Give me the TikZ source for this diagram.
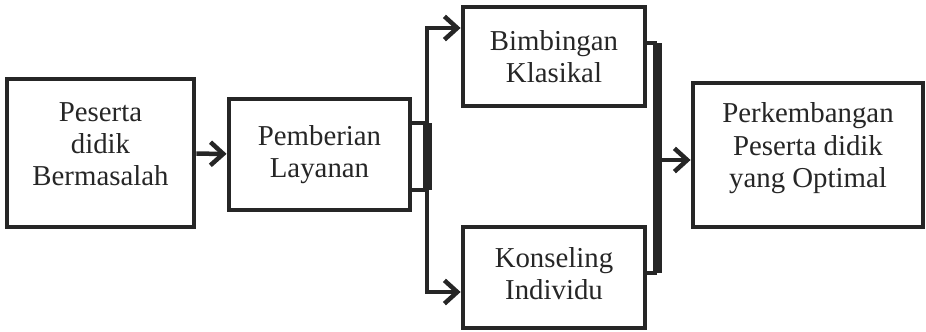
\documentclass[tikz,border=0pt]{standalone}
\usepackage{fontspec}
\setmainfont{Liberation Serif}
\usetikzlibrary{arrows.meta}
\definecolor{gelap}{HTML}{262626}
\tikzstyle{kotak}=[draw=gelap,line width=3.4pt,align=center,text=gelap,inner sep=0pt,font=\fontsize{20.5}{23}\selectfont]
\tikzstyle{panah}=[draw=gelap,line width=3.2pt,-{Straight Barb[length=3.2mm,width=5.8mm,line width=3.2pt]}]
\tikzstyle{garis}=[draw=gelap,line width=3.2pt]
\tikzstyle{tebal}=[draw=gelap,line width=6.4pt]
\newcommand{\turun}[1]{\rule[-#1]{0pt}{0pt}}

\begin{document}
\begin{tikzpicture}[x=0.025cm,y=-0.025cm]
		\useasboundingbox (0,0) rectangle (926,331);
		\node[kotak,minimum width=4.675cm,minimum height=3.7cm] (peserta) at (100.5,153) {Peserta\\didik\\Bermasalah\turun{0.45cm}};
		\node[kotak,minimum width=4.525cm,minimum height=2.775cm] (layanan) at (319.5,154.5) {Pemberian\\Layanan};
		\node[kotak,minimum width=4.55cm,minimum height=2.475cm] (klasikal) at (554,56.5) {Bimbingan\\Klasikal};
		\node[kotak,minimum width=4.55cm,minimum height=2.525cm] (individu) at (554,277.5) {Konseling\\Individu\turun{0.2cm}};
		\node[kotak,minimum width=5.75cm,minimum height=3.6cm] (optimal) at (808,155) {Perkembangan\\Peserta didik\\yang Optimal\turun{0.5cm}};
		\coordinate (ka) at (427,123);
		\coordinate (kb) at (427,190);
		\coordinate (na) at (657,43);
		\coordinate (nb) at (657,273);
		\draw[panah] (peserta) -- (layanan);
		\draw[garis] (layanan.east |- ka) -- (ka);
		\draw[garis] (layanan.east |- kb) -- (kb);
		\draw[tebal] (ka) -- (kb);
		\draw[panah] (ka) |- (klasikal.west |- 0,28);
		\draw[panah] (kb) |- (individu.west |- 0,292);
		\draw[garis] (klasikal.east |- na) -- (na);
		\draw[garis] (individu.east |- nb) -- (nb);
		\draw[tebal] (na) -- (nb);
		\draw[panah] (na |- 0,160) -- (optimal.west |- 0,160);
	\end{tikzpicture}
\end{document}
